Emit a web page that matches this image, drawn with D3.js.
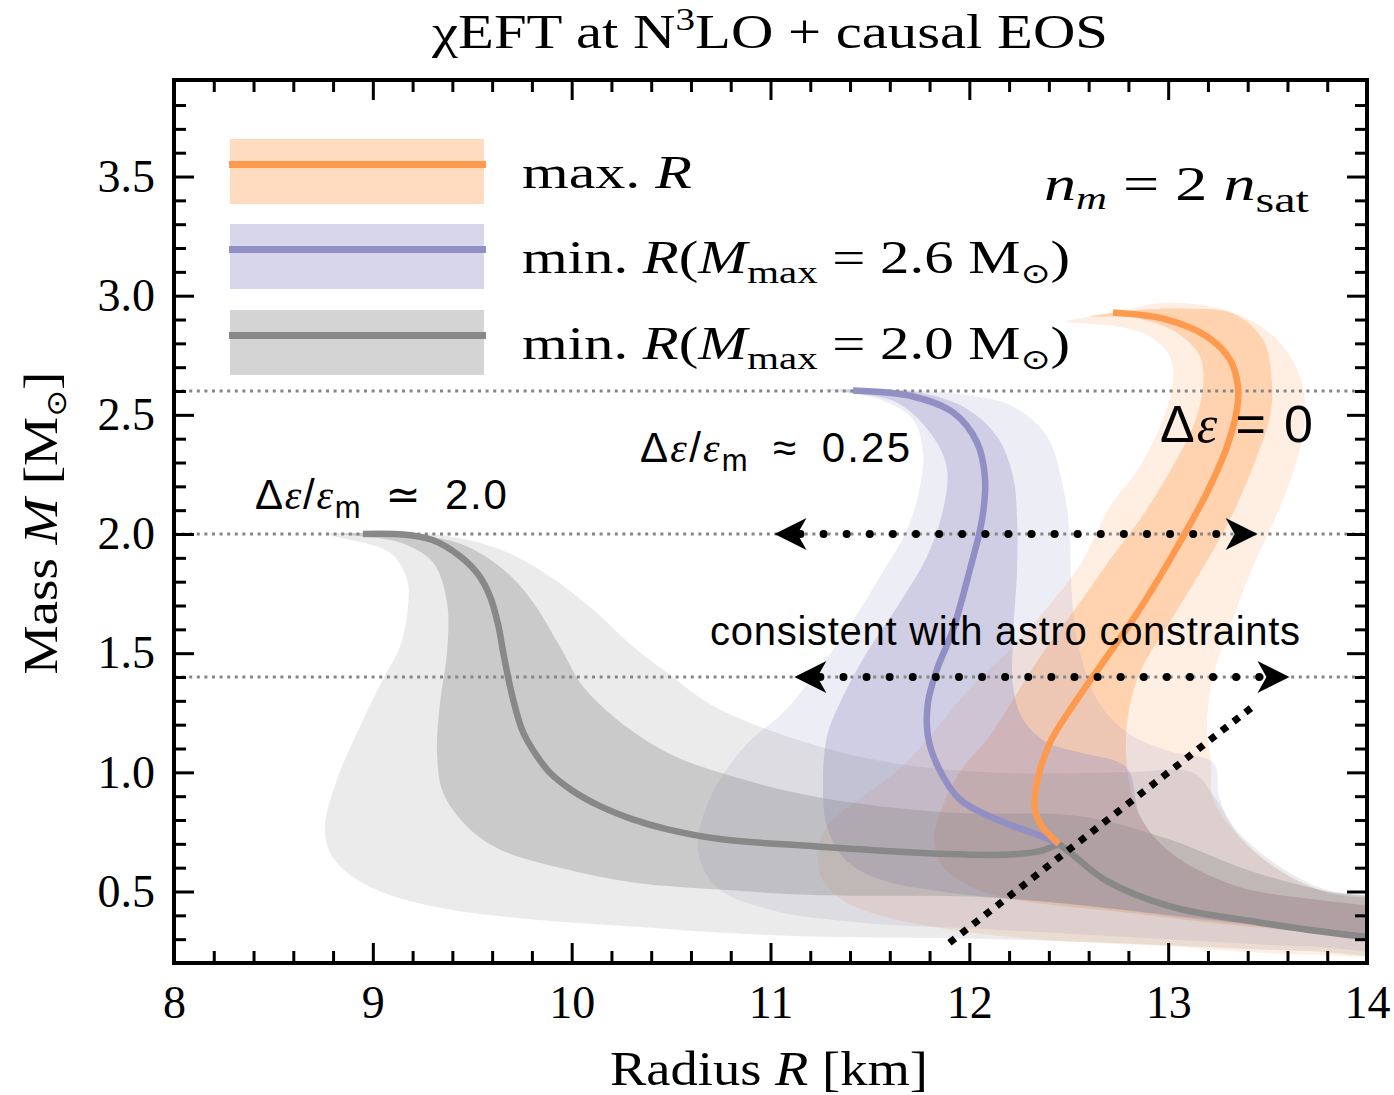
<!DOCTYPE html>
<html>
<head>
<meta charset="utf-8">
<script src="https://cdn.jsdelivr.net/npm/d3@7"></script>
<style>
  body { margin: 0; background: #fff; }
  text { font-family: "Liberation Serif", "DejaVu Serif", serif; fill: #000; }
  .sans { font-family: "Liberation Sans", "DejaVu Sans", sans-serif; }
</style>
</head>
<body>
<div id="chart"></div>
<script>
// axis ticks
var radiusTicks = [8, 9, 10, 11, 12, 13, 14];
var massTicks = [0.5, 1.0, 1.5, 2.0, 2.5, 3.0, 3.5];
var refMasses = [2.6, 2.0, 1.4];

// central M-R curves  [R km, M Msun]
var grayLine = [[8.95,2.0],[9.15,1.998],[9.30,1.975],[9.438,1.907],[9.53,1.83],[9.589,1.739],[9.63,1.62],[9.656,1.502],[9.69,1.361],[9.72,1.26],[9.757,1.166],[9.82,1.075],[9.891,0.998],[10.0,0.925],[10.143,0.858],[10.3,0.805],[10.478,0.762],[10.746,0.72],[11.219,0.69],[11.893,0.657],[12.2,0.655],[12.35,0.668],[12.45,0.70]];
var crustLine = [[12.45,0.70],[12.52,0.655],[12.68,0.55],[13.0,0.44],[13.46,0.37],[14.0,0.31],[14.2,0.30]];
var purpleLine = [[11.415,2.602],[11.717,2.577],[11.918,2.51],[12.039,2.384],[12.079,2.229],[12.064,2.061],[12.003,1.851],[11.918,1.599],[11.837,1.431],[11.792,1.293],[11.792,1.15],[11.842,1.024],[11.953,0.886],[12.139,0.802],[12.365,0.731],[12.45,0.70]];
var orangeLine = [[12.723,2.929],[12.994,2.9],[13.195,2.829],[13.311,2.732],[13.351,2.619],[13.346,2.522],[13.296,2.367],[13.195,2.174],[13.095,2.019],[12.959,1.822],[12.823,1.641],[12.657,1.444],[12.542,1.306],[12.406,1.125],[12.34,0.957],[12.33,0.844],[12.366,0.773],[12.45,0.70]];

// uncertainty bands: left edge and right edge, both from the top tip downwards
var grayOuterLeft = [[8.77,2.0],[9.086,1.922],[9.172,1.809],[9.177,1.696],[9.137,1.528],[9.051,1.39],[8.935,1.192],[8.82,0.97],[8.759,0.773],[8.785,0.664],[8.87,0.58],[9.051,0.496],[9.388,0.424],[9.806,0.383],[10.308,0.353],[10.746,0.328],[11.219,0.311],[12.114,0.3],[13.0,0.275],[13.7,0.25],[14.2,0.25]];
var grayOuterRight = [[8.9,2.004],[9.34,1.996],[9.64,1.935],[9.891,1.822],[10.107,1.683],[10.308,1.528],[10.479,1.419],[10.746,1.264],[11.445,1.066],[12.114,0.999],[12.788,1.0],[13.12,1.0],[13.23,0.9],[13.33,0.77],[13.5,0.64],[13.75,0.52],[14.2,0.42]];
var grayInnerLeft = [[8.85,2.0],[9.137,1.964],[9.303,1.88],[9.373,1.713],[9.373,1.503],[9.338,1.293],[9.323,1.083],[9.353,0.915],[9.474,0.773],[9.64,0.676],[9.977,0.592],[10.308,0.538],[10.746,0.508],[11.219,0.485],[12.114,0.475],[12.8,0.42],[13.5,0.36],[14.2,0.33]];
var grayInnerRight = [[9.0,2.004],[9.222,1.998],[9.474,1.948],[9.675,1.838],[9.806,1.713],[9.941,1.528],[10.057,1.36],[10.228,1.222],[10.479,1.083],[10.746,0.999],[11.219,0.899],[11.893,0.831],[12.567,0.815],[13.0,0.72],[13.4,0.59],[13.8,0.5],[14.2,0.45]];

var purpleOuterLeft = [[11.264,2.606],[11.551,2.564],[11.717,2.48],[11.767,2.342],[11.752,2.199],[11.687,2.019],[11.551,1.822],[11.385,1.599],[11.214,1.402],[11.063,1.25],[10.882,1.12],[10.7,0.9],[10.635,0.676],[10.726,0.521],[10.993,0.424],[11.445,0.37],[12.114,0.341],[13.0,0.3],[13.7,0.27],[14.2,0.27]];
var purpleOuterRight = [[11.45,2.608],[11.968,2.585],[12.22,2.535],[12.391,2.409],[12.471,2.199],[12.506,1.99],[12.51,1.838],[12.542,1.557],[12.642,1.306],[12.793,1.167],[13.0,1.09],[13.226,1.041],[13.26,0.886],[13.371,0.718],[13.578,0.58],[13.799,0.496],[14.2,0.43]];
var purpleInnerLeft = [[11.35,2.602],[11.636,2.552],[11.817,2.409],[11.888,2.271],[11.868,2.103],[11.787,1.906],[11.651,1.713],[11.485,1.503],[11.35,1.293],[11.284,1.15],[11.264,0.928],[11.284,0.773],[11.375,0.634],[11.551,0.55],[11.893,0.496],[12.6,0.44],[13.3,0.37],[14.2,0.32]];
var purpleInnerRight = [[11.5,2.605],[11.717,2.598],[11.968,2.535],[12.139,2.409],[12.22,2.241],[12.24,2.061],[12.24,1.851],[12.22,1.57],[12.22,1.36],[12.27,1.222],[12.391,1.125],[12.557,1.083],[12.79,1.02],[12.86,0.815],[13.01,0.664],[13.35,0.521],[14.2,0.39]];

var orangeOuterLeft = [[12.491,2.892],[12.743,2.871],[12.909,2.829],[13.009,2.745],[13.024,2.636],[12.974,2.48],[12.858,2.283],[12.708,2.115],[12.552,1.864],[12.396,1.696],[12.22,1.528],[12.0,1.35],[11.85,1.2],[11.67,1.03],[11.445,0.886],[11.284,0.773],[11.24,0.66],[11.26,0.55],[11.37,0.46],[11.55,0.40],[11.893,0.341],[12.34,0.30],[13.0,0.27],[13.69,0.236],[14.2,0.26]];
var orangeOuterRight = [[12.74,2.93],[12.994,2.971],[13.326,2.929],[13.547,2.816],[13.663,2.661],[13.688,2.522],[13.663,2.355],[13.563,2.115],[13.427,1.864],[13.311,1.612],[13.226,1.402],[13.195,1.192],[13.216,1.041],[13.226,0.886],[13.371,0.718],[13.578,0.58],[13.799,0.496],[14.2,0.43]];
var orangeInnerLeft = [[12.607,2.913],[12.823,2.908],[13.044,2.845],[13.16,2.745],[13.175,2.619],[13.125,2.451],[12.994,2.241],[12.858,2.061],[12.708,1.893],[12.542,1.696],[12.371,1.503],[12.22,1.306],[12.114,1.167],[11.938,0.983],[11.847,0.815],[11.822,0.718],[11.868,0.605],[12.003,0.521],[12.23,0.466],[12.788,0.412],[13.462,0.349],[14.2,0.32]];
var orangeInnerRight = [[12.85,2.94],[13.1,2.945],[13.326,2.925],[13.477,2.816],[13.522,2.636],[13.512,2.493],[13.427,2.283],[13.311,2.061],[13.16,1.838],[12.994,1.612],[12.858,1.419],[12.798,1.234],[12.793,1.024],[12.858,0.815],[13.014,0.664],[13.351,0.521],[14.2,0.39]];

// dotted double arrows (mass, R from, R to) and the diagonal line
var arrowMasses = [2.0, 1.4];
var arrowFrom = [11.02, 11.12];
var arrowTo = [13.45, 13.61];
var diagLine = [[11.90, 0.285], [13.44, 1.285]];

var width = 1394, height = 1095;

var svg = d3.select("#chart").append("svg")
    .attr("width", width)
    .attr("height", height);
svg.append("rect").attr("width", width).attr("height", height).attr("fill", "#fff");

var x = d3.scaleLinear().domain([8, 14]).range([174, 1367]);
var y = d3.scaleLinear().domain([0.2, 3.9]).range([963, 81.2]);

svg.append("defs").append("clipPath").attr("id", "plotclip")
  .append("rect").attr("x", 174).attr("y", 80).attr("width", 1193).attr("height", 883);

var bandPath = d3.line().x(d => x(d[0])).y(d => y(d[1])).curve(d3.curveCatmullRomClosed.alpha(0.5));
var curvePath = d3.line().x(d => x(d[0])).y(d => y(d[1])).curve(d3.curveCatmullRom.alpha(0.5));

var orange = "#fe9a4d", purple = "#918fc4", gray = "#888888";

// drawn orange first, gray last (transparent fills)
var bands = [
  {left: orangeOuterLeft, right: orangeOuterRight, fill: orange, a: 0.165},
  {left: orangeInnerLeft, right: orangeInnerRight, fill: orange, a: 0.33},
  {left: purpleOuterLeft, right: purpleOuterRight, fill: purple, a: 0.165},
  {left: purpleInnerLeft, right: purpleInnerRight, fill: purple, a: 0.33},
  {left: grayOuterLeft, right: grayOuterRight, fill: gray, a: 0.165},
  {left: grayInnerLeft, right: grayInnerRight, fill: gray, a: 0.33}
];

var bandG = svg.append("g").attr("clip-path", "url(#plotclip)");
bandG.selectAll("path").data(bands).enter().append("path")
    .attr("d", d => bandPath(d.left.concat(d.right.slice().reverse())))
    .attr("fill", d => d.fill)
    .attr("fill-opacity", d => d.a);

// reference dotted lines
svg.append("g").selectAll("line").data(refMasses).enter().append("line")
    .attr("x1", x(8)).attr("x2", x(14))
    .attr("y1", d => y(d)).attr("y2", d => y(d))
    .attr("stroke", "#858585").attr("stroke-width", 3)
    .attr("stroke-dasharray", "3 4.6");

// curves
var curveG = svg.append("g").attr("clip-path", "url(#plotclip)").attr("fill", "none").attr("stroke-width", 6.5);
curveG.append("path").attr("d", curvePath(grayLine)).attr("stroke", gray);
curveG.append("path").attr("d", curvePath(crustLine)).attr("stroke", gray);
curveG.append("path").attr("d", curvePath(purpleLine)).attr("stroke", purple);
curveG.append("path").attr("d", curvePath(orangeLine)).attr("stroke", orange);

// diagonal dotted line
svg.append("path").attr("d", d3.line().x(d => x(d[0])).y(d => y(d[1]))(diagLine))
    .attr("stroke", "#000").attr("stroke-width", 7).attr("stroke-dasharray", "7 8").attr("fill", "none");

// double arrows
function head(px, py, dir) {
  var L = 32, w = 16, n = 23;
  return "M" + px + "," + py +
    "L" + (px - dir * L) + "," + (py - w) +
    "L" + (px - dir * n) + "," + py +
    "L" + (px - dir * L) + "," + (py + w) + "Z";
}
arrowMasses.forEach(function(m, i) {
  var yy = y(m), xa = x(arrowFrom[i]), xb = x(arrowTo[i]);
  svg.append("line").attr("x1", xa + 26).attr("x2", xb - 26).attr("y1", yy).attr("y2", yy)
    .attr("stroke", "#000").attr("stroke-width", 8).attr("stroke-linecap", "round")
    .attr("stroke-dasharray", "0 23.1");
  svg.append("path").attr("d", head(xa, yy, -1)).attr("fill", "#000");
  svg.append("path").attr("d", head(xb, yy, 1)).attr("fill", "#000");
});

// axes: ticks pointing inward on all four sides
var minorR = d3.range(8, 14.001, 0.2).filter(v => Math.abs(v - Math.round(v)) > 1e-6);
var minorM = d3.range(0.3, 3.85, 0.1).filter(v => Math.abs(v * 2 - Math.round(v * 2)) > 1e-6);

function styleAxis(g) {
  g.select(".domain").remove();
  g.selectAll(".tick line").attr("stroke", "#000").attr("stroke-width", 3);
  g.selectAll(".tick text").attr("font-family", "Liberation Serif, serif").attr("font-size", 46).attr("fill", "#000");
}

svg.append("g").attr("transform", "translate(0,963)")
  .call(d3.axisBottom(x).tickValues(radiusTicks).tickFormat(d3.format("d")).tickSize(-20).tickPadding(22))
  .call(styleAxis);
svg.append("g").attr("transform", "translate(0,963)")
  .call(d3.axisBottom(x).tickValues(minorR).tickFormat("").tickSize(-12))
  .call(styleAxis);
svg.append("g").attr("transform", "translate(0,80)")
  .call(d3.axisTop(x).tickValues(radiusTicks).tickFormat("").tickSize(-20))
  .call(styleAxis);
svg.append("g").attr("transform", "translate(0,80)")
  .call(d3.axisTop(x).tickValues(minorR).tickFormat("").tickSize(-12))
  .call(styleAxis);
svg.append("g").attr("transform", "translate(174,0)")
  .call(d3.axisLeft(y).tickValues(massTicks).tickFormat(d3.format(".1f")).tickSize(-20).tickPadding(19))
  .call(styleAxis);
svg.append("g").attr("transform", "translate(174,0)")
  .call(d3.axisLeft(y).tickValues(minorM).tickFormat("").tickSize(-12))
  .call(styleAxis);
svg.append("g").attr("transform", "translate(1367,0)")
  .call(d3.axisRight(y).tickValues(massTicks).tickFormat("").tickSize(-20))
  .call(styleAxis);
svg.append("g").attr("transform", "translate(1367,0)")
  .call(d3.axisRight(y).tickValues(minorM).tickFormat("").tickSize(-12))
  .call(styleAxis);

svg.append("rect").attr("x", 174).attr("y", 80).attr("width", 1193).attr("height", 883)
    .attr("fill", "none").attr("stroke", "#000").attr("stroke-width", 4);

// text helper
function addText(parent, parts, attrs) {
  var t = parent.append("text");
  Object.keys(attrs).forEach(k => t.attr(k, attrs[k]));
  parts.forEach(function(p) {
    var ts = t.append("tspan").text(p.t);
    if (p.it) ts.attr("font-style", "italic");
    if (p.fs) ts.attr("font-size", p.fs);
    if (p.dy) ts.attr("dy", p.dy);
    if (p.ff) ts.attr("font-family", p.ff);
  });
  return t;
}
var stretch = {lengthAdjust: "spacingAndGlyphs"};
function withFit(attrs, len) {
  return Object.assign({}, attrs, {textLength: len, lengthAdjust: "spacingAndGlyphs"});
}

// title and axis labels
addText(svg, [{t: "\u03C7EFT at N"}, {t: "3", fs: 32, dy: -18}, {t: "LO + causal EOS", dy: 18}],
  withFit({x: 770, y: 48, "text-anchor": "middle", "font-size": 48}, 676));
addText(svg, [{t: "Radius "}, {t: "R", it: true}, {t: " [km]"}],
  withFit({x: 769, y: 1085, "text-anchor": "middle", "font-size": 48}, 318));
addText(svg, [{t: "Mass "}, {t: "M", it: true}, {t: " [M"}, {t: "\u2299", fs: 28, dy: 9, ff: "DejaVu Sans"}, {t: "]", dy: -9}],
  withFit({transform: "translate(57,523) rotate(-90)", "text-anchor": "middle", "font-size": 48}, 303));

// legend
var legend = [
  {fill: "#ffdbbf", stroke: orange, y: 139, parts: [{t: "max.  "}, {t: "R", it: true}], len: 170},
  {fill: "#d8d6ea", stroke: purple, y: 224, parts: [{t: "min.  "}, {t: "R", it: true}, {t: "("}, {t: "M", it: true}, {t: "max", fs: 32, dy: 10}, {t: " = 2.6 M", dy: -10}, {t: "\u2299", fs: 28, dy: 10, ff: "DejaVu Sans"}, {t: ")", dy: -10}], len: 548},
  {fill: "#d4d4d4", stroke: gray, y: 310, parts: [{t: "min.  "}, {t: "R", it: true}, {t: "("}, {t: "M", it: true}, {t: "max", fs: 32, dy: 10}, {t: " = 2.0 M", dy: -10}, {t: "\u2299", fs: 28, dy: 10, ff: "DejaVu Sans"}, {t: ")", dy: -10}], len: 548}
];
var lg = svg.append("g");
legend.forEach(function(d) {
  lg.append("rect").attr("x", 230).attr("y", d.y).attr("width", 254).attr("height", 65).attr("fill", d.fill);
  lg.append("line").attr("x1", 229).attr("x2", 486).attr("y1", d.y + 25.5).attr("y2", d.y + 25.5)
    .attr("stroke", d.stroke).attr("stroke-width", 7);
  addText(lg, d.parts, withFit({x: 522, y: d.y + 49, "font-size": 46}, d.len));
});

addText(svg, [{t: "n", it: true}, {t: "m", it: true, fs: 32, dy: 9}, {t: " = 2 ", dy: -9}, {t: "n", it: true}, {t: "sat", fs: 36, dy: 12}],
  withFit({x: 1309, y: 200, "text-anchor": "end", "font-size": 48}, 265));

// annotations
var eps = "Liberation Serif";
addText(svg, [{t: "\u0394"}, {t: "\u03B5", ff: eps, it: true}, {t: "/"}, {t: "\u03B5", ff: eps, it: true}, {t: "m", fs: 31, dy: 9}, {t: "\u2002\u2243\u20022.0", dy: -9}],
  {x: x(8.407), y: y(2.103), "font-size": 42, "class": "sans", textLength: 252});
addText(svg, [{t: "\u0394"}, {t: "\u03B5", ff: eps, it: true}, {t: "/"}, {t: "\u03B5", ff: eps, it: true}, {t: "m", fs: 31, dy: 9}, {t: "\u2002\u2248\u20020.25", dy: -9}],
  {x: x(10.344), y: y(2.304), "font-size": 42, "class": "sans", textLength: 270});
addText(svg, [{t: "\u0394"}, {t: "\u03B5", ff: eps, it: true}, {t: " = 0"}],
  {x: x(12.959), y: y(2.388), "font-size": 52, "class": "sans", textLength: 153});
addText(svg, [{t: "consistent with astro constraints"}],
  {x: x(10.696), y: y(1.536), "font-size": 40, "class": "sans", textLength: 590});
</script>
</body>
</html>
